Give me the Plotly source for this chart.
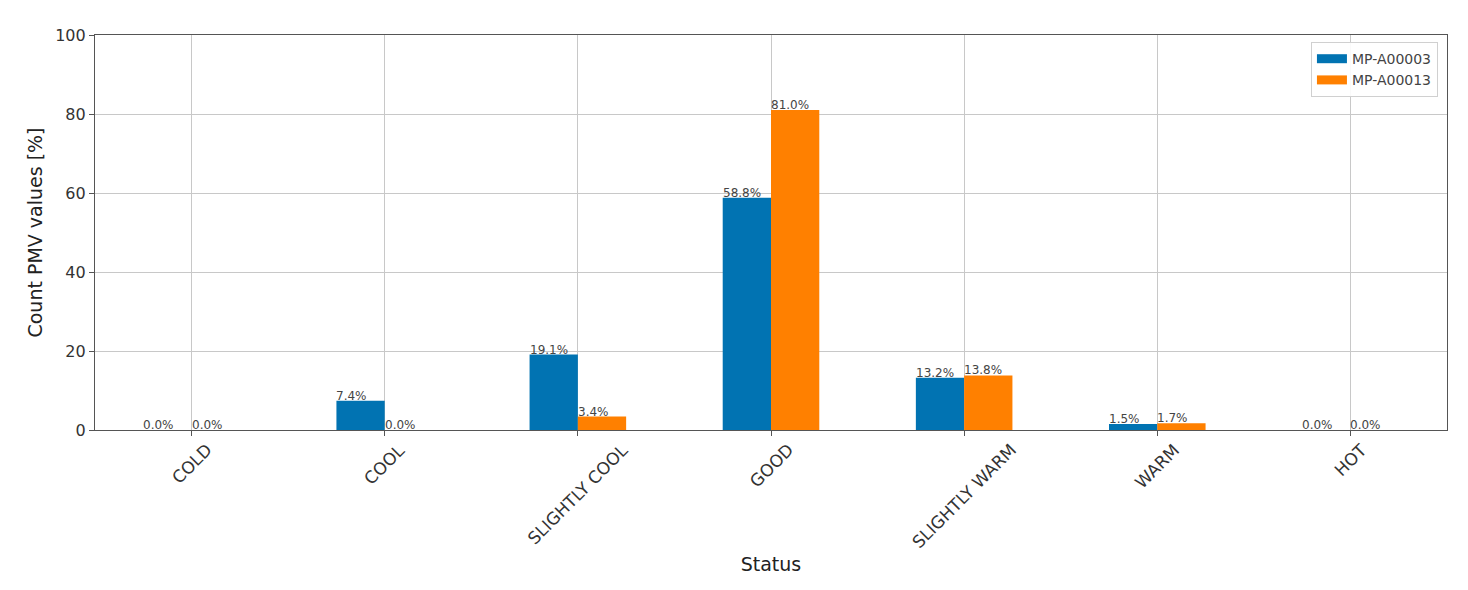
import plotly.graph_objects as go

# dados
categorias = ['COLD', 'COOL', 'SLIGHTLY COOL', 'GOOD', 'SLIGHTLY WARM', 'WARM', 'HOT']
serie_a = 'MP-A00003'
serie_b = 'MP-A00013'
valores_a = [0.0, 7.4, 19.1, 58.8, 13.2, 1.5, 0.0]
valores_b = [0.0, 0.0, 3.4, 81.0, 13.8, 1.7, 0.0]
yticks = [0, 20, 40, 60, 80, 100]

cor_a = '#0173B2'
cor_b = '#FF8000'
fonte = 'DejaVu Sans'

fig = go.Figure()
fig.add_trace(go.Bar(x=categorias, y=valores_a, name=serie_a, marker_color=cor_a,
                     marker_line_width=0, showlegend=False))
fig.add_trace(go.Bar(x=categorias, y=valores_b, name=serie_b, marker_color=cor_b,
                     marker_line_width=0, showlegend=False))

# entradas da legenda com retangulo largo, como no matplotlib
for nome, cor in ((serie_a, cor_a), (serie_b, cor_b)):
    fig.add_trace(go.Scatter(x=[None], y=[None], mode='lines', name=nome,
                             line=dict(color=cor, width=9)))

# rotulos em cima das barras, alinhados a esquerda da barra
for i in range(len(categorias)):
    for offset, vals in ((-0.25, valores_a), (0.0, valores_b)):
        fig.add_annotation(x=i + offset, y=vals[i], xref='x', yref='y',
                           text=f'{vals[i]:.1f}%', showarrow=False,
                           xanchor='left', yanchor='bottom', yshift=-4, xshift=-2,
                           font=dict(family=fonte, size=12, color='#444444'))

# rotulos do eixo x girados 45 graus e centrados no tick
for cat in categorias:
    fig.add_annotation(x=cat, y=0, xref='x', yref='paper',
                       text=cat, showarrow=False, textangle=-45,
                       xanchor='center', yanchor='top', yshift=-7,
                       font=dict(family=fonte, size=17, color='#333333'))

fig.update_layout(
    width=1460, height=582,
    margin=dict(t=27, b=160, l=87, r=21),
    paper_bgcolor='white',
    plot_bgcolor='white',
    barmode='group',
    bargap=0.5,
    bargroupgap=0,
    font=dict(family=fonte, color='#333333'),
    showlegend=True,
    legend=dict(
        x=0.9933, y=0.982, xanchor='right', yanchor='top',
        bgcolor='rgba(255,255,255,0.9)',
        bordercolor='#d0d0d0', borderwidth=1,
        font=dict(family=fonte, size=14, color='#444444'),
    ),
    xaxis=dict(
        title=dict(text='Status', font=dict(size=19, color='#222222'), standoff=122),
        showticklabels=False,
        showgrid=True, gridcolor='#c8c8c8', gridwidth=1,
        showline=True, linecolor='#555555', linewidth=1.2, mirror=True,
        ticks='outside', ticklen=5, tickcolor='#555555',
        range=[-0.5, 6.5],
    ),
    yaxis=dict(
        title=dict(text='Count PMV values [%]', font=dict(size=19, color='#222222'), standoff=7),
        range=[0, 100],
        tickvals=yticks,
        tickfont=dict(size=16, color='#333333'),
        showgrid=True, gridcolor='#c8c8c8', gridwidth=1,
        showline=True, linecolor='#555555', linewidth=1.2, mirror=True,
        ticks='outside', ticklen=5, tickcolor='#555555',
        zeroline=False,
    ),
)

fig.write_html('out.html')
